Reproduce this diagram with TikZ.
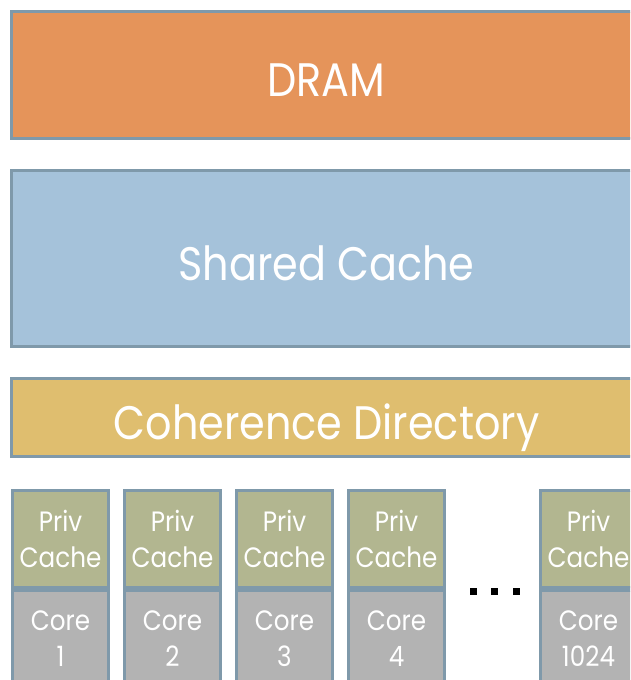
\documentclass[tikz,border=0pt]{standalone}
\usepackage{fontspec}
\setmainfont{Poppins}[FakeStretch=0.88]
\definecolor{dramfill}{HTML}{E5945A}
\definecolor{sharedfill}{HTML}{A5C2DA}
\definecolor{dirfill}{HTML}{DFBE6F}
\definecolor{privfill}{HTML}{B2B690}
\definecolor{corefill}{HTML}{B3B3B3}
\definecolor{edge}{HTML}{7F99AA}
\tikzset{
  block/.style={draw=edge, line width=3pt, text=white, inner sep=0pt,
    anchor=north west, text height=43pt, text depth=0pt,
    font=\fontsize{47}{47}\selectfont},
  cell/.style={draw=edge, line width=3pt, text=white, inner sep=0pt,
    anchor=north west, minimum width=96pt, minimum height=97pt, align=center,
    font=\fontsize{28}{36}\selectfont},
  privcell/.style={cell, fill=privfill},
  corecell/.style={cell, fill=corefill},
}
\begin{document}
\begin{tikzpicture}[x=1pt, y=-1pt]
  \useasboundingbox (0,0) rectangle (630,680);
  \clip (0,0) rectangle (630,680);
  % memory hierarchy levels
  \node[block, fill=dramfill, minimum width=630pt, minimum height=127pt] (dram) at (10,10) {DRAM};
  \node[block, fill=sharedfill, minimum width=630pt, minimum height=176pt] (shared) at (10,169) {Shared Cache};
  \node[block, fill=dirfill, minimum width=630pt, minimum height=78pt] (dir) at (10,377) {Coherence Directory};
  % cores with private caches
  \foreach \x/\n/\lbl in {11/1/1, 123/2/2, 235/3/3, 347/4/4, 539/5/1024}{
    \node[privcell] (priv\n) at (\x,489) {Priv\\Cache};
    \node[corecell, anchor=north] (core\n) at (priv\n.south) {Core\\\lbl};
  }
  % ellipsis between core 4 and core 1024
  \foreach \dx in {473,494,516}
    \fill (\dx-3.5,587.5) rectangle ++(7,7);
\end{tikzpicture}
\end{document}
